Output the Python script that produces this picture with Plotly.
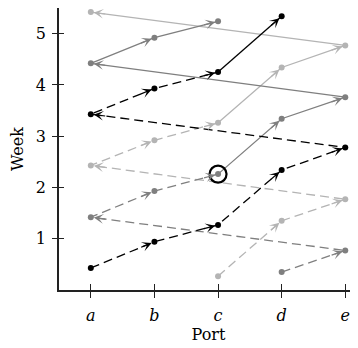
import plotly.graph_objects as go

PORTS = ["a", "b", "c", "d", "e"]
WEEK_TICKS = [1, 2, 3, 4, 5]

# vessel routes (port visited, week of visit)
black_ports = ["a", "b", "c", "d", "e", "a", "b", "c", "d"]
black_weeks = [0.43, 0.94, 1.27, 2.34, 2.78, 3.43, 3.93, 4.25, 5.34]
black_dashed_legs = 7

dark_ports = ["d", "e", "a", "b", "c", "d", "e", "a", "b", "c"]
dark_weeks = [0.35, 0.77, 1.42, 1.93, 2.26, 3.34, 3.76, 4.42, 4.92, 5.24]
dark_dashed_legs = 4

light_ports = ["c", "d", "e", "a", "b", "c", "d", "e", "a"]
light_weeks = [0.27, 1.35, 1.77, 2.43, 2.92, 3.26, 4.34, 4.77, 5.42]
light_dashed_legs = 5

highlight_port = ["c"]
highlight_week = [2.26]

vessels = [
    (light_ports, light_weeks, light_dashed_legs, "#b4b4b4"),
    (dark_ports, dark_weeks, dark_dashed_legs, "#7f7f7f"),
    (black_ports, black_weeks, black_dashed_legs, "#000000"),
]

# page body has an 8px margin, so the figure is sized to fit the window
W, H = 350, 340
ML, MR, MT, MB = 51, 0, 0, 58
XR = [-0.5, 4.2]
YR = [0, 5.5]
sx = (W - ML - MR) / (XR[1] - XR[0])
sy = (H - MT - MB) / (YR[1] - YR[0])

fig = go.Figure()
annotations = []
for ports, weeks, nd, col in vessels:
    xs = [PORTS.index(p) for p in ports]
    fig.add_trace(go.Scatter(x=xs[:nd + 1], y=weeks[:nd + 1], mode="lines",
                             line=dict(color=col, width=1.3, dash="9px,5px"),
                             hoverinfo="skip", showlegend=False, cliponaxis=False))
    fig.add_trace(go.Scatter(x=xs[nd:], y=weeks[nd:], mode="lines",
                             line=dict(color=col, width=1.3),
                             hoverinfo="skip", showlegend=False, cliponaxis=False))
    fig.add_trace(go.Scatter(x=xs, y=weeks, mode="markers",
                             marker=dict(color=col, size=6),
                             hoverinfo="skip", showlegend=False, cliponaxis=False))
    for i in range(1, len(xs)):
        dxp = (xs[i] - xs[i - 1]) * sx
        dyp = -(weeks[i] - weeks[i - 1]) * sy
        n = (dxp ** 2 + dyp ** 2) ** 0.5
        L = 16
        annotations.append(dict(
            x=xs[i], y=weeks[i], xref="x", yref="y",
            ax=-dxp / n * L, ay=-dyp / n * L,
            showarrow=True, arrowhead=3, arrowsize=1.35, arrowwidth=1.2,
            arrowcolor=col, standoff=3, text=""))

fig.add_trace(go.Scatter(x=[PORTS.index(p) for p in highlight_port], y=highlight_week,
                         mode="markers",
                         marker=dict(symbol="circle-open", size=17, color="#000",
                                     line=dict(width=2.2, color="#000")),
                         hoverinfo="skip", showlegend=False))
# invisible trace for overlay axes (inside tick halves)
fig.add_trace(go.Scatter(x=[None], y=[None], xaxis="x2", yaxis="y2",
                         showlegend=False, hoverinfo="skip"))

FAM = "DejaVu Serif"
font_main = dict(family=FAM, size=16, color="#000")
fig.update_layout(
    width=W, height=H,
    margin=dict(l=ML, r=MR, t=MT, b=MB),
    plot_bgcolor="white", paper_bgcolor="white",
    annotations=annotations,
    xaxis=dict(range=XR, tickvals=list(range(len(PORTS))), ticktext=PORTS,
               tickfont=dict(family=FAM, size=16, style="italic", color="#000"),
               ticks="outside", ticklen=6, tickwidth=1.2, tickcolor="#222",
               ticklabelstandoff=4,
               showline=True, linecolor="#222", linewidth=1.5,
               showgrid=False, zeroline=False, automargin=False,
               title=dict(text="Port", font=font_main, standoff=3)),
    yaxis=dict(range=YR, tickvals=WEEK_TICKS,
               tickfont=font_main,
               ticks="outside", ticklen=5, tickwidth=1.2, tickcolor="#222",
               ticklabelstandoff=3,
               showline=True, linecolor="#222", linewidth=1.5,
               showgrid=False, zeroline=False, automargin=False,
               title=dict(text="Week", font=font_main, standoff=12)),
    xaxis2=dict(range=XR, tickvals=list(range(len(PORTS))), overlaying="x", anchor="y2",
                side="bottom", ticks="inside", ticklen=6, tickwidth=1.2, tickcolor="#222",
                showticklabels=False, showgrid=False, zeroline=False, showline=False,
                automargin=False),
    yaxis2=dict(range=YR, tickvals=WEEK_TICKS, overlaying="y", anchor="x2",
                side="left", ticks="inside", ticklen=5, tickwidth=1.2, tickcolor="#222",
                showticklabels=False, showgrid=False, zeroline=False, showline=False,
                automargin=False),
)

fig.write_html("out.html")
